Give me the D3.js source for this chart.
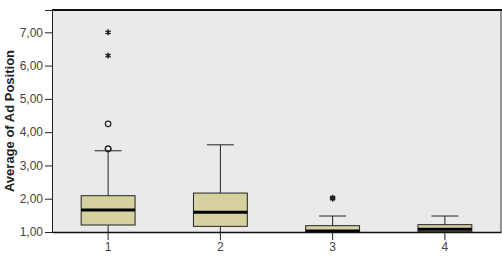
<!DOCTYPE html>
<html>
<head>
<meta charset="utf-8">
<script src="https://cdn.jsdelivr.net/npm/d3@7"></script>
<style>
  body { margin: 0; background: #fff; }
  svg { display: block; font-family: "Liberation Sans", Arial, sans-serif; }
</style>
</head>
<body>
<div id="chart"><svg></svg></div>
<script>
// groups on the x axis
const categories = ['1', '2', '3', '4']
// box statistics per group
const whiskerLow = [1.0, 1.0, 1.0, 1.0]
const q1 = [1.21, 1.17, 1.0, 1.02]
const median = [1.66, 1.59, 1.03, 1.08]
const q3 = [2.09, 2.17, 1.19, 1.22]
const whiskerHigh = [3.44, 3.62, 1.48, 1.48]
// outliers: [group, value]
const mildOutliers = [['1', 3.5], ['1', 3.5], ['1', 4.25]]
const extremeOutliers = [['1', 7.0], ['1', 6.3], ['3', 2.0], ['3', 2.03]]
const yTicks = [1, 2, 3, 4, 5, 6, 7]
const yTickLabels = ['1,00', '2,00', '3,00', '4,00', '5,00', '6,00', '7,00']
const yTitle = 'Average of Ad Position'

const W = 502, H = 267
const margin = { top: 10, right: 1, bottom: 35, left: 52 }
const width = W - margin.left - margin.right
const height = H - margin.top - margin.bottom

const svg = d3.select('#chart svg').attr('width', W).attr('height', H)
const g = svg.append('g').attr('transform', 'translate(' + margin.left + ',' + margin.top + ')')

const x = d3.scaleBand().domain(categories).range([0, width]).paddingInner(0).paddingOuter(0)
const y = d3.scaleLinear().domain([1, 7.67]).range([height, 0])

const boxW = x.bandwidth() * 0.48
const capW = boxW / 2

// plot background + frame
g.append('rect')
  .attr('x', 0).attr('y', 0)
  .attr('width', width).attr('height', height)
  .attr('fill', '#eaeaea')
g.append('line') // top frame
  .attr('x1', 0).attr('x2', width + 1)
  .attr('y1', 0).attr('y2', 0)
  .attr('stroke', '#111').attr('stroke-width', 2)
g.append('line') // right frame
  .attr('x1', width).attr('x2', width)
  .attr('y1', 0).attr('y2', height)
  .attr('stroke', '#333').attr('stroke-width', 1)

const boxes = categories.map((c, i) => ({
  c, lo: whiskerLow[i], q1: q1[i], med: median[i], q3: q3[i], hi: whiskerHigh[i]
}))

const bg = g.append('g').attr('class', 'boxes')
  .selectAll('g').data(boxes).enter().append('g')
  .attr('transform', d => 'translate(' + (x(d.c) + x.bandwidth() / 2) + ',0)')

// whiskers
bg.append('line')
  .attr('x1', 0).attr('x2', 0)
  .attr('y1', d => y(d.hi)).attr('y2', d => y(d.q3))
  .attr('stroke', '#222').attr('stroke-width', 1)
bg.append('line')
  .attr('x1', 0).attr('x2', 0)
  .attr('y1', d => y(d.q1)).attr('y2', d => y(d.lo))
  .attr('stroke', '#222').attr('stroke-width', 1)
bg.append('line')
  .attr('x1', -capW / 2).attr('x2', capW / 2)
  .attr('y1', d => y(d.hi)).attr('y2', d => y(d.hi))
  .attr('stroke', '#222').attr('stroke-width', 1)

// boxes
bg.append('rect')
  .attr('x', -boxW / 2).attr('width', boxW)
  .attr('y', d => y(d.q3))
  .attr('height', d => Math.max(1, y(d.q1) - y(d.q3)))
  .attr('fill', '#d6d1a0')
  .attr('stroke', '#222').attr('stroke-width', 1)

// median
bg.append('line')
  .attr('x1', -boxW / 2).attr('x2', boxW / 2)
  .attr('y1', d => y(d.med)).attr('y2', d => y(d.med))
  .attr('stroke', '#000').attr('stroke-width', 3)

// outliers
g.append('g').selectAll('circle').data(mildOutliers).enter().append('circle')
  .attr('cx', d => x(d[0]) + x.bandwidth() / 2)
  .attr('cy', d => y(d[1]))
  .attr('r', 2.8)
  .attr('fill', 'none').attr('stroke', '#222').attr('stroke-width', 1.2)

const star = d3.symbol().type(d3.symbolAsterisk).size(24)
g.append('g').selectAll('path').data(extremeOutliers).enter().append('path')
  .attr('d', star)
  .attr('transform', d => 'translate(' + (x(d[0]) + x.bandwidth() / 2) + ',' + y(d[1]) + ')')
  .attr('fill', 'none').attr('stroke', '#222').attr('stroke-width', 1.5)

// axes
const yAxis = g.append('g').attr('class', 'axis axis--y')
  .call(d3.axisLeft(y).tickValues(yTicks).tickSize(7).tickPadding(2)
    .tickFormat((d, i) => yTickLabels[i]))
yAxis.select('.domain').attr('stroke', '#222')
yAxis.selectAll('.tick line').attr('stroke', '#222')
yAxis.selectAll('text').attr('font-size', '12px').attr('fill', '#444')

const xAxis = g.append('g').attr('class', 'axis axis--x')
  .attr('transform', 'translate(0,' + height + ')')
  .call(d3.axisBottom(x).tickSize(8).tickPadding(2).tickSizeOuter(0))
xAxis.select('.domain').attr('stroke', '#111').attr('stroke-width', 1.5)
xAxis.selectAll('.tick line').attr('stroke', '#222')
xAxis.selectAll('text').attr('font-size', '12px').attr('fill', '#444')

// y title
svg.append('text')
  .attr('transform', 'translate(14,' + (margin.top + height / 2) + ') rotate(-90)')
  .attr('text-anchor', 'middle')
  .attr('font-size', '13px')
  .attr('font-weight', 'bold')
  .attr('fill', '#222')
  .text(yTitle)
</script>
</body>
</html>
